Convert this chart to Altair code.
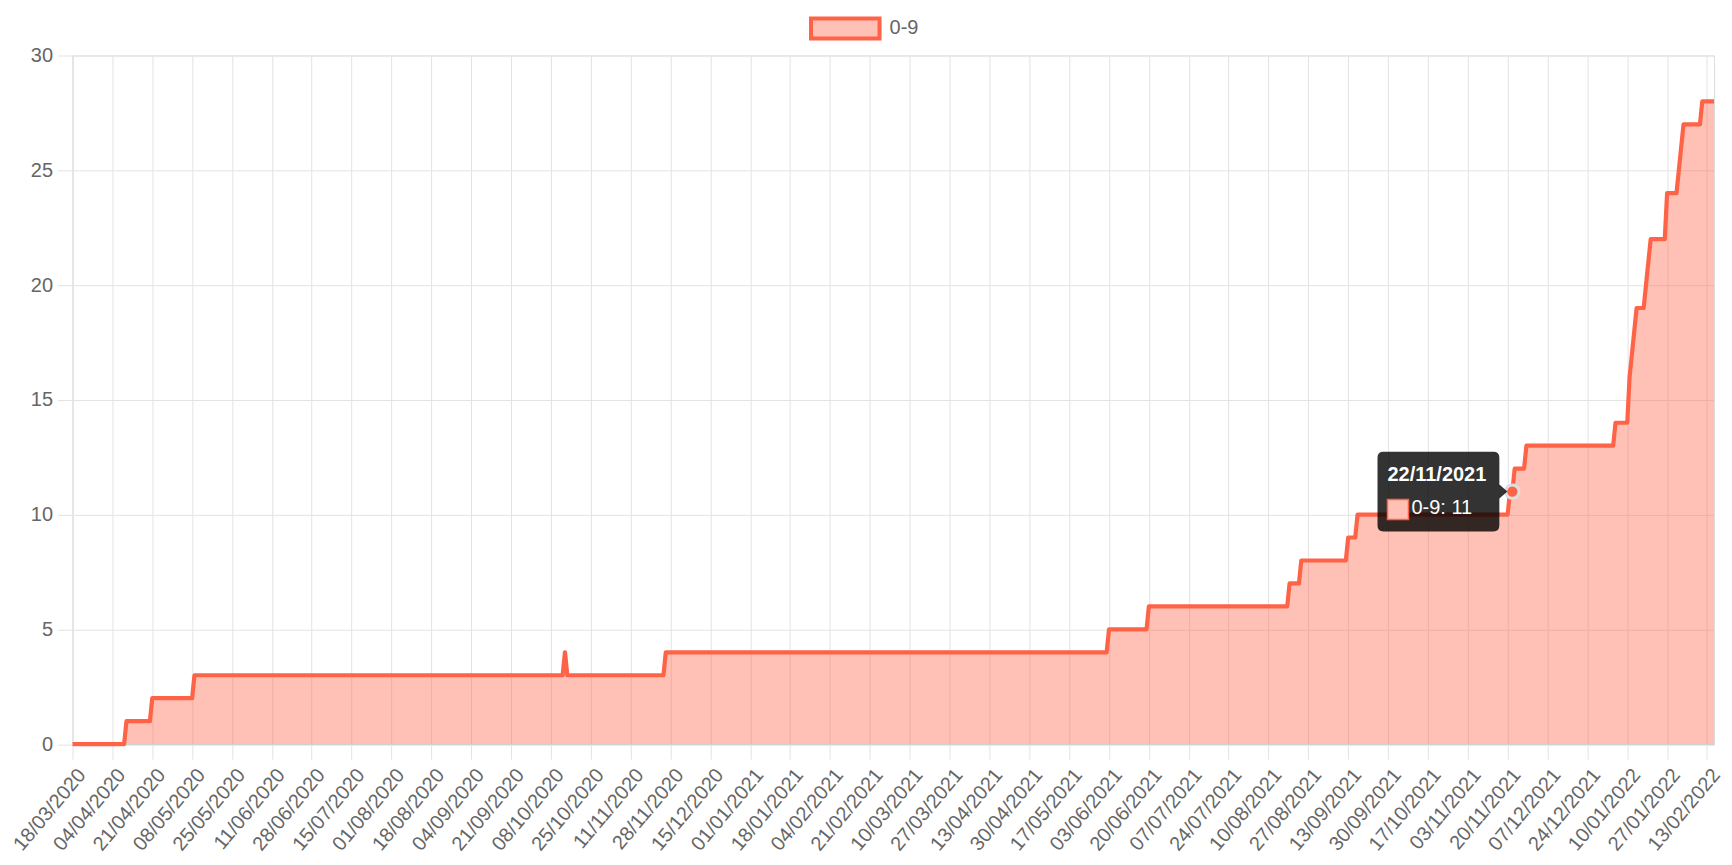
import altair as alt
import pandas as pd

# ---------------- data ----------------
SERIES = "0-9"
CHANGE_DATES = [
    "2020-03-18", "2020-04-10", "2020-04-21", "2020-05-09", "2020-10-14",
    "2020-10-15", "2020-11-26", "2021-06-03", "2021-06-20", "2021-08-19",
    "2021-08-24", "2021-09-13", "2021-09-17", "2021-11-21", "2021-11-23",
    "2021-11-28", "2022-01-05", "2022-01-11", "2022-01-12", "2022-01-13",
    "2022-01-14", "2022-01-18", "2022-01-19", "2022-01-20", "2022-01-27",
    "2022-02-01", "2022-02-02", "2022-02-03", "2022-02-11",
]
CHANGE_VALUES = [0, 1, 2, 3, 4, 3, 4, 5, 6, 7, 8, 9, 10, 11, 12, 13, 14,
                 16, 17, 18, 19, 20, 21, 22, 24, 25, 26, 27, 28]
LAST_DATE = "2022-02-16"
TICK_LABELS = [
    "18/03/2020", "04/04/2020", "21/04/2020", "08/05/2020", "25/05/2020",
    "11/06/2020", "28/06/2020", "15/07/2020", "01/08/2020", "18/08/2020",
    "04/09/2020", "21/09/2020", "08/10/2020", "25/10/2020", "11/11/2020",
    "28/11/2020", "15/12/2020", "01/01/2021", "18/01/2021", "04/02/2021",
    "21/02/2021", "10/03/2021", "27/03/2021", "13/04/2021", "30/04/2021",
    "17/05/2021", "03/06/2021", "20/06/2021", "07/07/2021", "24/07/2021",
    "10/08/2021", "27/08/2021", "13/09/2021", "30/09/2021", "17/10/2021",
    "03/11/2021", "20/11/2021", "07/12/2021", "24/12/2021", "10/01/2022",
    "27/01/2022", "13/02/2022",
]
Y_TICKS = [0, 5, 10, 15, 20, 25, 30]
HOVER_DATE = "2021-11-22"

# ---------------- build table (step series, carried forward daily) --------
days = pd.date_range(CHANGE_DATES[0], LAST_DATE, freq="D")
vals = (pd.Series(CHANGE_VALUES, index=pd.to_datetime(CHANGE_DATES))
        .reindex(days, method="ffill"))
df = pd.DataFrame({"date": days.strftime("%Y-%m-%d"), "value": vals.values.astype(int)})
hover_df = df[df["date"] == HOVER_DATE].copy()
hover_value = int(hover_df["value"].iloc[0])
hover_title = pd.Timestamp(HOVER_DATE).strftime("%d/%m/%Y")
legend_df = pd.DataFrame({"series": [SERIES]})

def ms(ts):
    return int(pd.Timestamp(ts).value // 10**6)

tick_ms = [ms(pd.to_datetime(t, format="%d/%m/%Y")) for t in TICK_LABELS]
x_domain = [ms(CHANGE_DATES[0]), ms(LAST_DATE)]

# ---------------- style ----------------
TOMATO = "#FF6347"
PINK = "#FFC1B5"
GRID = "#e3e3e3"
TEXT = "#666666"
FONT = "Liberation Sans"
FS = 20

x_enc = alt.X(
    "date:T",
    scale=alt.Scale(type="utc", domain=x_domain, nice=False),
    axis=alt.Axis(
        values=tick_ms, format="%d/%m/%Y", labelAngle=-50, labelAlign="right",
        labelBaseline="middle", labelFontSize=FS, labelColor=TEXT, labelFont=FONT,
        tickSize=15, tickColor=GRID, gridColor=GRID, domainColor="#cfcfcf",
        labelPadding=12, labelOffset=9, title=None, labelOverlap=False,
        labelFlush=False,
    ),
)
y_enc = alt.Y(
    "value:Q",
    scale=alt.Scale(domain=[0, 30], nice=False),
    axis=alt.Axis(
        values=Y_TICKS, labelFontSize=FS, labelColor=TEXT, labelFont=FONT,
        tickSize=15, tickColor=GRID, gridColor=GRID, domainColor=GRID,
        labelPadding=5, title=None,
    ),
)

base = alt.Chart(df).encode(x=x_enc, y=y_enc)
area = base.mark_area(color=TOMATO, fillOpacity=0.4, interpolate="linear")
line = base.mark_line(color=TOMATO, strokeWidth=4.2, strokeJoin="round", interpolate="linear")

hov = alt.Chart(hover_df).encode(x=alt.X("date:T"), y=alt.Y("value:Q"))
dot = hov.mark_point(shape="circle", filled=True, size=180, fill=TOMATO,
                     stroke="#dedede", strokeWidth=3, opacity=1)
TIP_PATH = ("M-129,-40H-19Q-13,-40,-13,-34V-7L-5,0L-13,7V34Q-13,40,-19,40"
            "H-129Q-135,40,-135,34V-34Q-135,-40,-129,-40Z")
tip = hov.mark_point(shape=TIP_PATH, size=4, filled=True, fill="#000000",
                     fillOpacity=0.8, strokeWidth=0, opacity=1)
cbox = hov.mark_point(shape="M-125,8H-104V28H-125Z", size=4, filled=True,
                      fill=PINK, stroke=TOMATO, strokeWidth=1.5, opacity=1)
tip_title = hov.mark_text(text=hover_title, dx=-125, dy=-11, align="left",
                          baseline="alphabetic", fontSize=FS, fontWeight="bold",
                          color="white", font=FONT)
tip_body = hov.mark_text(text=f"{SERIES}: {hover_value}", dx=-101, dy=22,
                         align="left", baseline="alphabetic", fontSize=FS,
                         color="white", font=FONT)

leg_box = alt.Chart(legend_df).mark_point(
    shape="M-34.3,-10H34.3V10H-34.3Z", size=4, filled=True, fill=TOMATO,
    fillOpacity=0.4, stroke=TOMATO, strokeWidth=4, opacity=1,
).encode(x=alt.value(773.7), y=alt.value(-27))
leg_text = alt.Chart(legend_df).mark_text(
    align="left", baseline="alphabetic", fontSize=FS, color=TEXT, font=FONT,
).encode(x=alt.value(818), y=alt.value(-21), text="series:N")

chart = alt.layer(area, line, dot, tip, cbox, tip_title, tip_body, leg_box, leg_text).properties(
    width=1643.5, height=689.5,
    padding={"left": 64.6, "top": 47, "right": 10, "bottom": 118},
    autosize=alt.AutoSizeParams(type="none"),
).configure_view(stroke=None).configure(background="white")

chart.save("out.html", embed_options={"renderer": "svg", "actions": False})
